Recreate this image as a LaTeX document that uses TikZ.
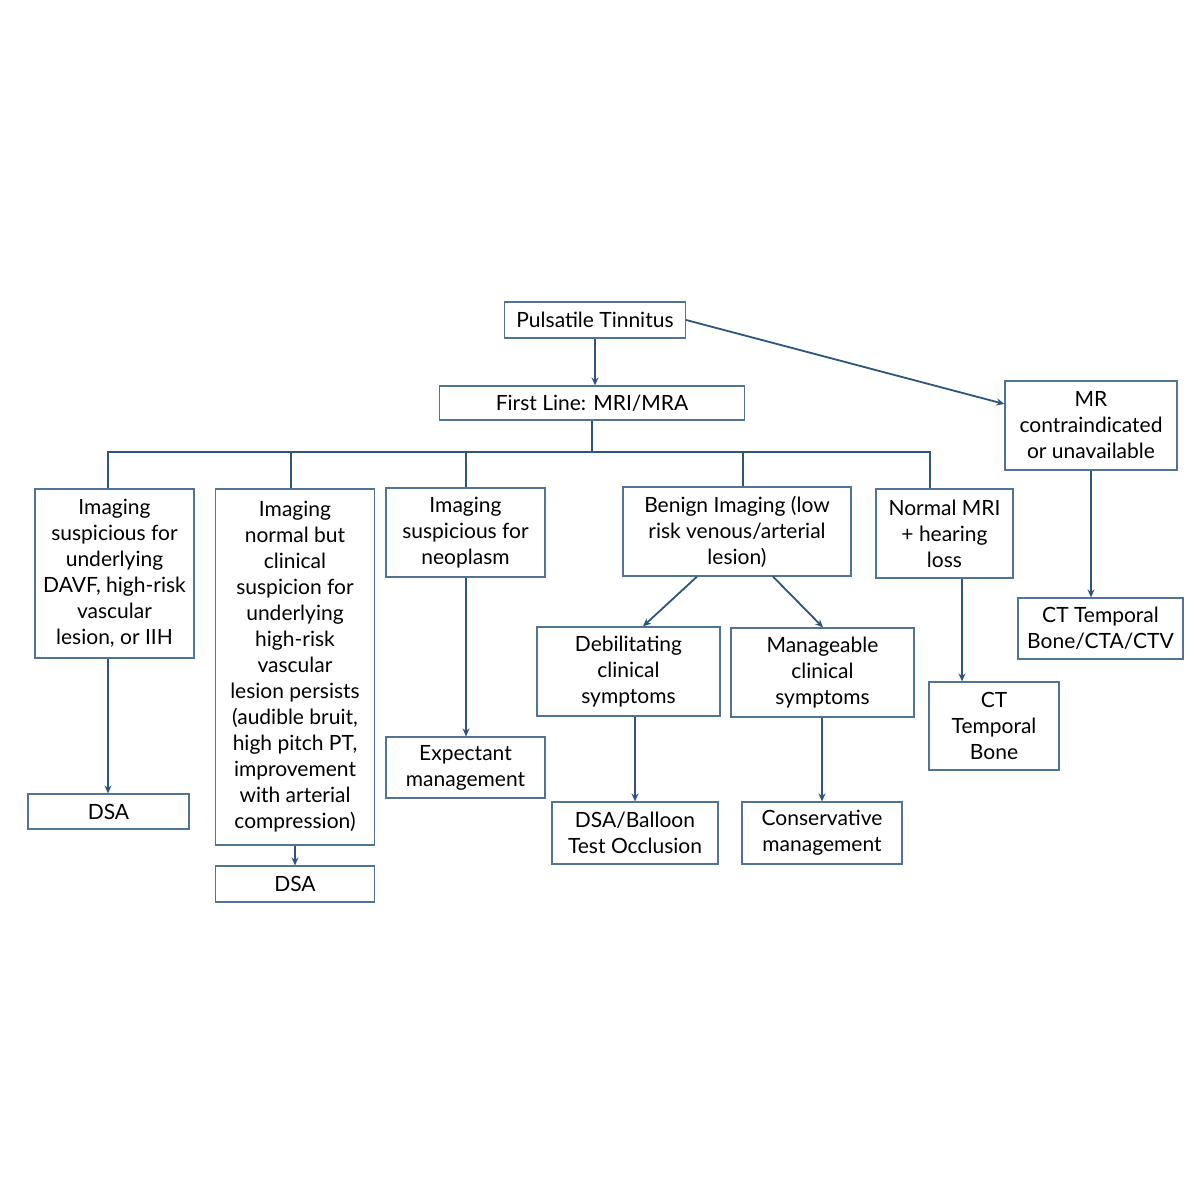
\documentclass[tikz,border=0pt]{standalone}
\usepackage{fontspec}
\setmainfont{Lato}
\usetikzlibrary{arrows.meta}
\definecolor{boxline}{RGB}{80,115,150}
\definecolor{arrline}{RGB}{45,85,125}
\tikzset{
  box/.style={draw=boxline, line width=1.2pt, align=center, inner sep=0pt,
    font=\fontsize{21}{26}\selectfont},
  arr/.style={draw=arrline, line width=1.8pt, -{Stealth[length=8pt,width=7pt]}},
  link/.style={draw=arrline, line width=1.8pt}
}
\begin{document}
\begin{tikzpicture}[x=1pt,y=-1pt]
\useasboundingbox[fill=white] (0,0) rectangle (1200,1200);
% top of the chart
\node[box, minimum width=181, minimum height=36] (pt) at (595,320) {Pulsatile Tinnitus};
\node[box, minimum width=305, minimum height=34] (first) at (592,403) {First Line: MRI/MRA};
\node[box, minimum width=172, minimum height=89] (mr) at (1091,425.5) {MR\\contraindicated\\or unavailable};
% second row
\node[box, minimum width=159, minimum height=169] (susp) at (114.5,573.5) {Imaging\\suspicious for\\underlying\\DAVF, high-risk\\vascular\\lesion, or IIH};
\node[box, minimum width=159, minimum height=356] (norm) at (295,667) {Imaging\\normal but\\clinical\\suspicion for\\underlying\\high-risk\\vascular\\lesion persists\\(audible bruit,\\high pitch PT,\\improvement\\with arterial\\compression)};
\node[box, minimum width=159, minimum height=89] (neo) at (465.5,532.5) {Imaging\\suspicious for\\neoplasm};
\node[box, minimum width=228, minimum height=89] (benign) at (737,531.5) {Benign Imaging (low\\risk venous/arterial\\lesion)};
\node[box, minimum width=137, minimum height=89] (hear) at (944.5,533.5) {Normal MRI\\+ hearing\\loss};
\node[box, minimum width=165, minimum height=61] (ctall) at (1100.5,628.5) {CT Temporal\\Bone/CTA/CTV};
% lower rows
\node[box, minimum width=161, minimum height=35] (dsaa) at (108.5,811.5) {DSA};
\node[box, minimum width=159, minimum height=36] (dsab) at (295,884) {DSA};
\node[box, minimum width=159, minimum height=61] (expect) at (465.5,767.5) {Expectant\\management};
\node[box, minimum width=183, minimum height=89] (debil) at (628.5,671.5) {Debilitating\\clinical\\symptoms};
\node[box, minimum width=183, minimum height=89] (manage) at (822.5,672.5) {Manageable\\clinical\\symptoms};
\node[box, minimum width=166, minimum height=62] (balloon) at (635,833) {DSA/Balloon\\Test Occlusion};
\node[box, minimum width=160, minimum height=62] (conserv) at (822,833) {Conservative\\management};
\node[box, minimum width=130, minimum height=88] (ctbone) at (994,726) {CT\\Temporal\\Bone};
% bus under first line
\coordinate (bsusp) at (108,452);
\coordinate (bnorm) at (291,452);
\coordinate (bneo) at (466,452);
\coordinate (bbenign) at (743,452);
\coordinate (bhear) at (930,452);
\draw[arr] (pt.south) -- (pt.south |- first.north);
\draw[arr] (pt.east) -- ([yshift=21.5pt]mr.west);
\draw[link] (first.south) -- (first.south |- bsusp);
\draw[link] (bsusp |- susp.north) -- (bsusp) -- (bhear) -- (bhear |- hear.north);
\draw[link] (bnorm) -- (bnorm |- norm.north);
\draw[link] (bneo) -- (bneo |- neo.north);
\draw[link] (bbenign) -- (bbenign |- benign.north);
% downward arrows
\draw[arr] (bsusp |- susp.south) -- (bsusp |- dsaa.north);
\draw[arr] (norm.south) -- (dsab.north);
\draw[arr] (bneo |- neo.south) -- (bneo |- expect.north);
\draw[arr] ([xshift=-40pt]benign.south) -- ([xshift=14.5pt]debil.north);
\draw[arr] ([xshift=36pt]benign.south) -- ([xshift=0.5pt]manage.north);
\draw[arr] (balloon.north |- debil.south) -- (balloon.north);
\draw[arr] (conserv.north |- manage.south) -- (conserv.north);
\draw[arr] ([xshift=17.5pt]hear.south) -- ([xshift=17.5pt]hear.south |- ctbone.north);
\draw[arr] (mr.south) -- (mr.south |- ctall.north);
\end{tikzpicture}
\end{document}
